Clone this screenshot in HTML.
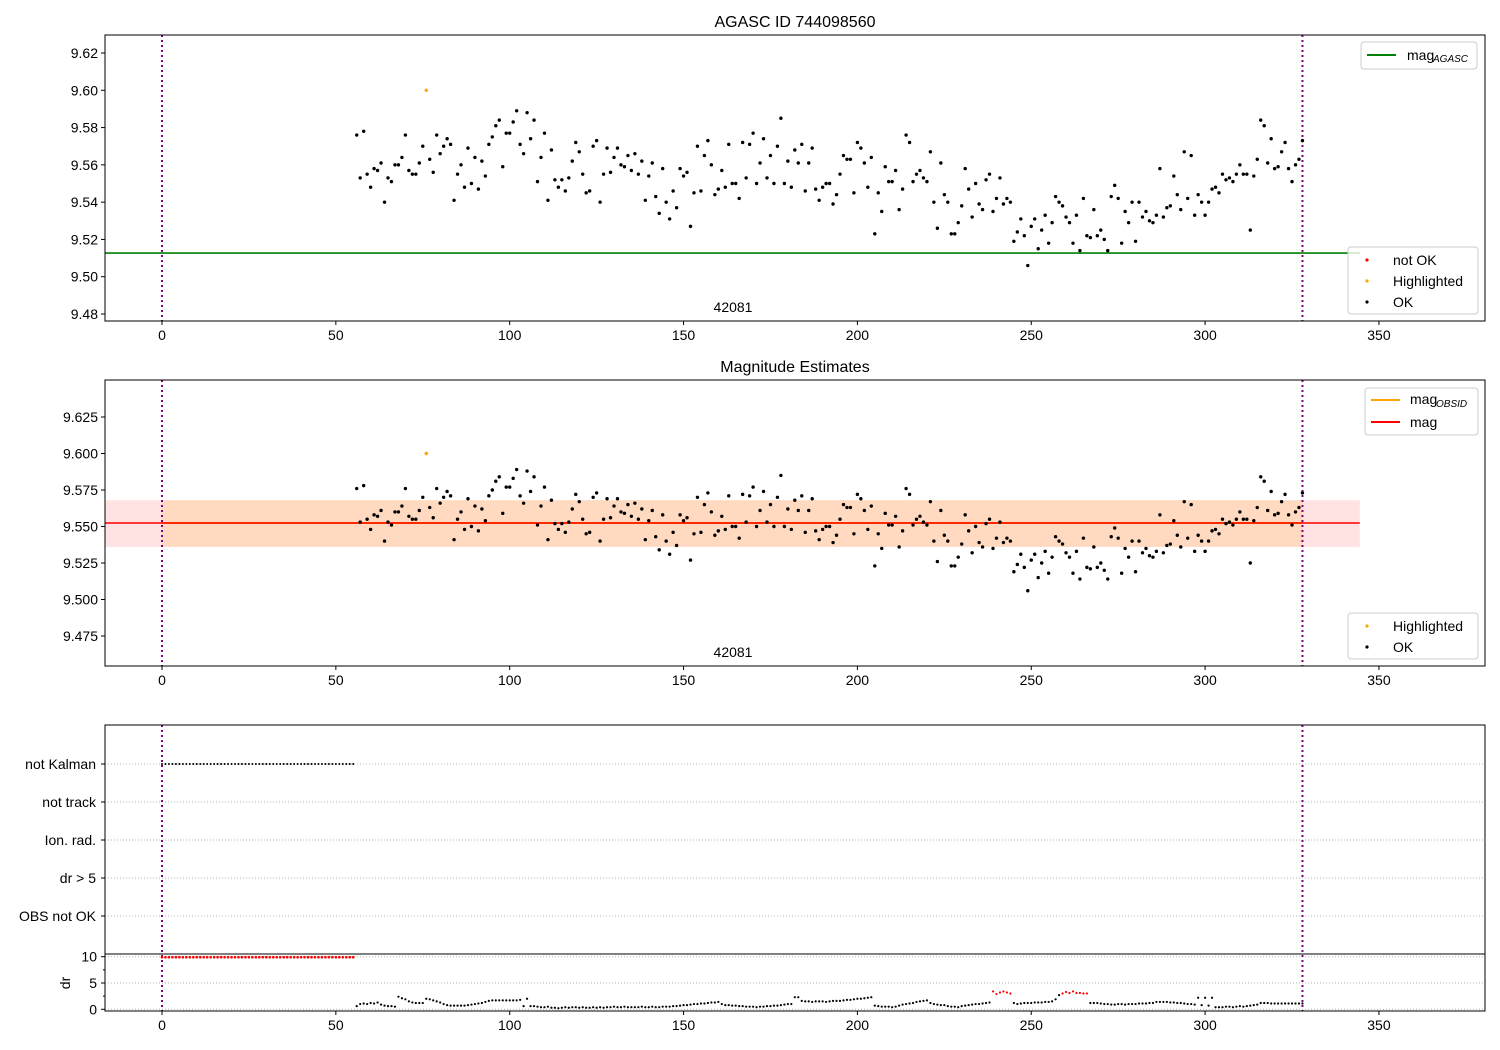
<!DOCTYPE html>
<html><head><meta charset="utf-8"><style>
body{margin:0;background:#fff}
svg{display:block;font-family:"Liberation Sans","DejaVu Sans",sans-serif}
</style></head><body>
<svg id="c" width="1500" height="1050" viewBox="0 0 1500 1050" xmlns="http://www.w3.org/2000/svg"></svg>
<script>
const startX = 56;
const highlightX = [76];
const mags = [
9.576,9.553,9.578,9.555,9.548,9.558,9.557,9.561,9.540,9.553,9.551,9.560,9.560,9.564,9.576,9.557,9.555,9.555,9.561,9.570,
9.600,9.563,9.556,9.576,9.566,9.570,9.574,9.571,9.541,9.555,9.560,9.548,9.569,9.550,9.564,9.547,9.562,9.554,9.571,9.575,
9.581,9.584,9.559,9.577,9.577,9.583,9.589,9.571,9.566,9.588,9.574,9.584,9.551,9.564,9.577,9.541,9.568,9.552,9.548,9.552,
9.546,9.553,9.562,9.572,9.567,9.555,9.545,9.546,9.570,9.573,9.540,9.555,9.569,9.556,9.564,9.569,9.560,9.559,9.565,9.557,
9.566,9.555,9.562,9.541,9.554,9.561,9.543,9.534,9.558,9.540,9.531,9.546,9.537,9.558,9.554,9.556,9.527,9.545,9.570,9.546,
9.565,9.573,9.560,9.544,9.547,9.557,9.548,9.571,9.550,9.550,9.542,9.572,9.553,9.571,9.577,9.550,9.561,9.574,9.553,9.565,
9.550,9.570,9.585,9.550,9.562,9.548,9.568,9.561,9.571,9.546,9.561,9.569,9.547,9.541,9.548,9.550,9.550,9.539,9.544,9.555,
9.565,9.563,9.563,9.545,9.572,9.569,9.561,9.548,9.564,9.523,9.545,9.535,9.559,9.551,9.551,9.557,9.536,9.547,9.576,9.572,
9.551,9.555,9.557,9.553,9.551,9.567,9.540,9.526,9.561,9.544,9.540,9.523,9.523,9.529,9.538,9.558,9.547,9.532,9.550,9.539,
9.536,9.552,9.555,9.535,9.542,9.553,9.539,9.542,9.540,9.519,9.524,9.531,9.522,9.506,9.527,9.531,9.515,9.525,9.533,9.518,
9.529,9.543,9.540,9.538,9.532,9.529,9.518,9.533,9.514,9.542,9.522,9.521,9.536,9.522,9.525,9.520,9.514,9.543,9.549,9.542,
9.518,9.535,9.529,9.540,9.519,9.540,9.532,9.535,9.530,9.529,9.533,9.558,9.532,9.537,9.538,9.554,9.544,9.536,9.567,9.542,
9.565,9.533,9.544,9.540,9.533,9.540,9.547,9.548,9.545,9.555,9.552,9.553,9.551,9.555,9.560,9.555,9.555,9.525,9.554,9.563,
9.584,9.581,9.561,9.574,9.558,9.559,9.567,9.572,9.558,9.551,9.560,9.563,9.573];
const drVals = [
0.6,1.0,1.1,1.0,1.2,1.1,1.3,0.9,0.7,0.6, 0.6,0.5,2.4,2.1,1.9,1.5,1.3,1.2,1.2,1.2,
2.0,1.9,1.7,1.5,1.3,1.0,0.8,0.7,0.7,0.7, 0.7,0.7,0.8,0.9,1.0,1.1,1.2,1.4,1.6,1.7,
1.7,1.7,1.7,1.7,1.7,1.7,1.7,1.8,0.6,2.0, 0.6,0.6,0.5,0.4,0.4,0.5,0.3,0.3,0.2,0.3,
0.4,0.3,0.4,0.4,0.3,0.4,0.3,0.3,0.4,0.3, 0.4,0.3,0.4,0.4,0.5,0.4,0.4,0.5,0.4,0.4,
0.4,0.4,0.5,0.4,0.4,0.5,0.4,0.4,0.5,0.5, 0.5,0.6,0.6,0.7,0.8,0.8,0.9,1.0,1.0,1.1,
1.1,1.2,1.3,1.3,1.4,1.0,0.8,0.8,0.7,0.7, 0.6,0.6,0.5,0.5,0.5,0.4,0.5,0.5,0.6,0.6,
0.7,0.7,0.8,0.9,1.0,1.0,2.3,2.3,1.6,1.5, 1.5,1.4,1.5,1.5,1.5,1.4,1.5,1.6,1.6,1.6,
1.7,1.8,1.8,1.9,2.0,2.0,2.1,2.2,2.3,0.7, 0.6,0.5,0.5,0.5,0.4,0.5,0.7,0.9,1.0,1.1,
1.2,1.4,1.5,1.6,1.7,1.2,1.0,0.9,0.8,0.8, 0.6,0.5,0.5,0.4,0.6,0.7,0.8,0.9,1.0,1.0,
1.1,1.2,1.3,3.4,2.9,3.2,3.4,3.2,3.0,1.2, 1.0,1.1,1.2,1.2,1.2,1.3,1.3,1.3,1.4,1.4,
1.5,1.9,2.7,3.0,3.3,3.1,3.4,3.1,3.1,3.0, 3.0,1.2,1.2,1.2,1.1,1.0,1.0,0.9,0.9,1.0,
1.0,0.9,1.0,1.0,1.0,1.1,1.1,1.1,1.2,1.2, 1.4,1.4,1.4,1.4,1.3,1.3,1.2,1.2,1.1,1.0,
1.0,0.9,2.2,0.8,2.2,0.7,2.2,0.4,0.4,0.4, 0.5,0.5,0.4,0.5,0.6,0.5,0.6,0.7,0.8,0.9,
1.2,1.2,1.2,1.1,1.1,1.1,1.1,1.1,1.1,1.1, 1.1,1.1,1.1];
const drNotOkX = [239,240,241,242,243,244,259,260,261,262,263,264,265,266];
const flagCats = ["not Kalman","not track","Ion. rad.","dr > 5","OBS not OK"];
const notKalmanEnd = 55;
const agascMag = 9.5127;
const meanMag = 9.5524;
const bandLo = 9.536, bandHi = 9.568;
const xTicks = [0,50,100,150,200,250,300,350];
const y1Ticks = [9.48,9.50,9.52,9.54,9.56,9.58,9.60,9.62];
const y2Ticks = [9.475,9.500,9.525,9.550,9.575,9.600,9.625];
const drTicks = [0,5,10];
const tStart = 0, tEnd = 328, lineEnd = 344.5;

const S = document.getElementById('c');
const NS = 'http://www.w3.org/2000/svg';
const FS = 14;
function el(tag, at, txt){const e=document.createElementNS(NS,tag);for(const k in at)e.setAttribute(k,at[k]);if(txt!==undefined)e.textContent=txt;S.appendChild(e);return e;}
const L=105,R=1485;
const X = x => 162 + x*3.477;
function lin(v0,p0,v1,p1){return v=>p0+(v-v0)*(p1-p0)/(v1-v0);}
const Y1 = lin(9.48,314,9.62,53);
const Y2 = lin(9.475,636,9.625,417);
const YD = lin(0,1009.3,10,956.7);
const flagY = i => 764 + i*38;

function frame(top,bot,name){
  const r=el('rect',{x:L,y:top,width:R-L,height:bot-top,fill:'none',stroke:'#000','stroke-width':1});
  
}
function xAxis(bot,name){
  xTicks.forEach(t=>{
    const l=el('line',{x1:X(t),x2:X(t),y1:bot,y2:bot+4,stroke:'#000'});
    
    const tx=el('text',{x:X(t),y:bot+19,'text-anchor':'middle','font-size':FS},String(t));
    
  });
}
function yAxis(ticks,Y,dec,name){
  ticks.forEach(t=>{
    el('line',{x1:L-4,x2:L,y1:Y(t),y2:Y(t),stroke:'#000'});
    const tx=el('text',{x:L-7,y:Y(t)+5,'text-anchor':'end','font-size':FS},t.toFixed(dec));
    
  });
}
function vlines(top,bot){
  [tStart,tEnd].forEach(t=>{
    const l=el('line',{x1:X(t),x2:X(t),y1:top,y2:bot,stroke:'#800080','stroke-width':2,'stroke-dasharray':'2,3'});
    
  });
}
function dot(x,y,c,r,name){const d=el('circle',{cx:x,cy:y,r:r,fill:c});return d;}
function legendBox(x,y,w,h,name){const r=el('rect',{x:x,y:y,width:w,height:h,rx:3,fill:'#fff','fill-opacity':0.8,stroke:'#ccc'});}

// ---------- Panel 1 ----------
let t=el('text',{x:795,y:27,'text-anchor':'middle','font-size':16},'AGASC ID 744098560');

let g=el('line',{x1:L,x2:X(lineEnd),y1:Y1(agascMag),y2:Y1(agascMag),stroke:'#008000','stroke-width':1.6});

vlines(35,321);
mags.forEach((m,i)=>{const x=startX+i;const hl=highlightX.includes(x);dot(X(x),Y1(m),hl?'#ffa500':'#000',1.7,hl?'highlighted-point':'ok-point');});
t=el('text',{x:733,y:312,'text-anchor':'middle','font-size':FS},'42081');

frame(35,321,'magnitude-axes');xAxis(321,'x-axis-1');yAxis(y1Ticks,Y1,2,'y-axis-1');
legendBox(1361,42,116,27,'legend-agasc');
el('line',{x1:1367,x2:1396,y1:55,y2:55,stroke:'#008000','stroke-width':2});
t=el('text',{x:1407,y:60,'font-size':FS},'mag');
el('text',{x:1433,y:62,'font-size':10,'font-style':'italic'},'AGASC');
legendBox(1348,247,130,67,'legend-status');
[['not OK','#f00',260],['Highlighted','#ffa500',281],['OK','#000',302]].forEach(([lab,c,y])=>{
  dot(1367,y,c,1.6,'legend-marker');
  const tx=el('text',{x:1393,y:y+5,'font-size':FS},lab);
});

// ---------- Panel 2 ----------
t=el('text',{x:795,y:372,'text-anchor':'middle','font-size':16},'Magnitude Estimates');

let b=el('rect',{x:L,y:Y2(bandHi),width:X(lineEnd)-L,height:Y2(bandLo)-Y2(bandHi),fill:'#ff0000','fill-opacity':0.11});

b=el('rect',{x:X(tStart),y:Y2(bandHi),width:X(tEnd)-X(tStart),height:Y2(bandLo)-Y2(bandHi),fill:'#ffa500','fill-opacity':0.15});

g=el('line',{x1:X(tStart),x2:X(tEnd),y1:Y2(meanMag),y2:Y2(meanMag),stroke:'#ffa500','stroke-width':2});

g=el('line',{x1:L,x2:X(lineEnd),y1:Y2(meanMag),y2:Y2(meanMag),stroke:'#f00','stroke-width':1.6});

vlines(380,666);
mags.forEach((m,i)=>{const x=startX+i;const hl=highlightX.includes(x);dot(X(x),Y2(m),hl?'#ffa500':'#000',1.7,hl?'highlighted-point':'ok-point');});
t=el('text',{x:733,y:657,'text-anchor':'middle','font-size':FS},'42081');

frame(380,666,'estimates-axes');xAxis(666,'x-axis-2');yAxis(y2Ticks,Y2,3,'y-axis-2');
legendBox(1365,388,113,47,'legend-mag');
el('line',{x1:1371,x2:1400,y1:400,y2:400,stroke:'#ffa500','stroke-width':2});
t=el('text',{x:1410,y:404,'font-size':FS},'mag');
el('text',{x:1436,y:407,'font-size':10,'font-style':'italic'},'OBSID');
el('line',{x1:1371,x2:1400,y1:422,y2:422,stroke:'#f00','stroke-width':2});
t=el('text',{x:1410,y:427,'font-size':FS},'mag');
legendBox(1348,613,130,46,'legend-status-2');
[['Highlighted','#ffa500',626],['OK','#000',647]].forEach(([lab,c,y])=>{
  dot(1367,y,c,1.6,'legend-marker');
  const tx=el('text',{x:1393,y:y+5,'font-size':FS},lab);
});

// ---------- Panel 3 ----------
flagCats.forEach((c,i)=>{
  el('line',{x1:L,x2:R,y1:flagY(i),y2:flagY(i),stroke:'#b0b0b0','stroke-dasharray':'1,2'});
  el('line',{x1:L-4,x2:L,y1:flagY(i),y2:flagY(i),stroke:'#000'});
  const tx=el('text',{x:L-9,y:flagY(i)+5,'text-anchor':'end','font-size':FS},c);
  
});
drTicks.forEach(d=>{el('line',{x1:L,x2:R,y1:YD(d),y2:YD(d),stroke:'#b0b0b0','stroke-dasharray':'1,2'});});
vlines(725,1011);
for(let x=0;x<=notKalmanEnd;x++){
  dot(X(x),flagY(0),'#000',1.0,'not-kalman-point');
  dot(X(x),YD(10)+0.5,'#f00',1.3,'dr-capped-point');
}
drVals.forEach((d,i)=>{const x=startX+i;const bad=drNotOkX.includes(x);dot(X(x),YD(d),bad?'#f00':'#000',1.1,bad?'dr-not-ok-point':'dr-point');});
frame(725,1011,'flags-axes');
el('line',{x1:L,x2:R,y1:954,y2:954,stroke:'#000'});
xAxis(1011,'x-axis-3');
drTicks.forEach(d=>{
  el('line',{x1:L-4,x2:L,y1:YD(d),y2:YD(d),stroke:'#000'});
  const tx=el('text',{x:L-8,y:YD(d)+5,'text-anchor':'end','font-size':FS},String(d));
  
});
[2.5,7.5].forEach(d=>el('line',{x1:L-2,x2:L,y1:YD(d),y2:YD(d),stroke:'#000'}));
t=el('text',{x:0,y:0,'font-size':FS,'text-anchor':'middle',transform:'translate(70,983) rotate(-90)'},'dr');

</script>
</body></html>
